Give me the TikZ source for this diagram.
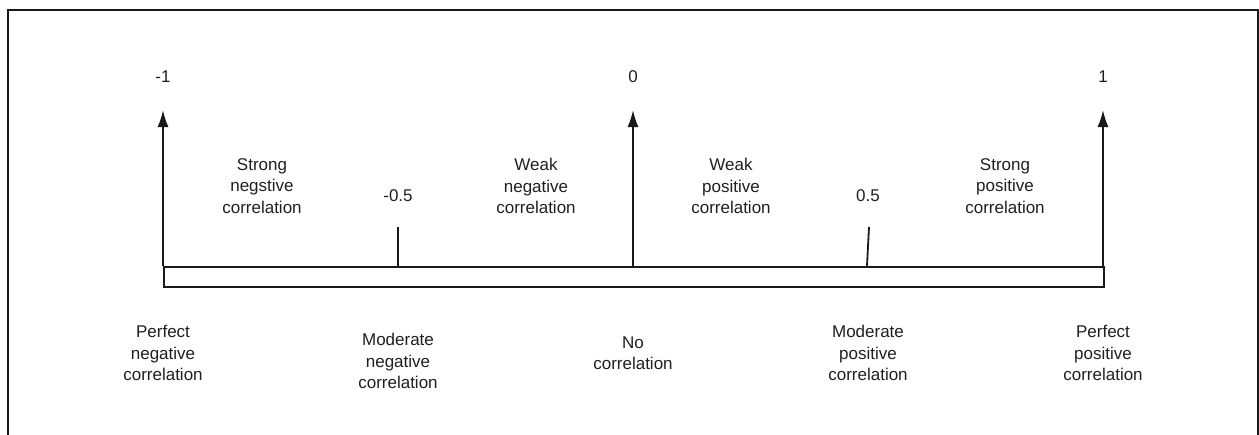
\documentclass[tikz,border=0pt]{standalone}
\usepackage{fontspec}
\setmainfont{Liberation Sans}
\usetikzlibrary{arrows.meta}
\begin{document}
\begin{tikzpicture}[x=1pt,y=-1pt,
  lbl/.style={align=center,inner sep=0pt,text=black!88,font=\fontsize{17}{21.5}\selectfont},
  ln/.style={line width=1.8pt,draw=black!90},
  uparrow/.style={ln,-{Latex[length=17pt,width=11pt]}}]
\useasboundingbox (0,0) rectangle (1259,434);
% open frame
\draw[ln] (8,440) -- (8,10) -- (1258,10) -- (1258,440);
% scale bar
\node[draw=black!90,line width=1.8pt,minimum width=940pt,minimum height=20pt,inner sep=0pt,anchor=north west] (bar) at (163,266) {};
% named points on the bar
\coordinate (pm1) at (163,266);
\coordinate (p0) at (633,266);
\coordinate (pp1) at (1103,266);
\coordinate (pmh) at (398,266);
\coordinate (pph) at (867,266);
\coordinate (tmh) at (398,227);
\coordinate (tph) at (869,227);
\coordinate (am1) at (163,110);
\coordinate (a0) at (633,110);
\coordinate (ap1) at (1103,110);
% arrows and ticks
\draw[uparrow] (pm1) -- (am1);
\draw[uparrow] (p0) -- (a0);
\draw[uparrow] (pp1) -- (ap1);
\draw[ln] (pmh) -- (tmh);
\draw[ln] (pph) -- (tph);
% values
\node[lbl] (vm1) at (163,77) {-1};
\node[lbl] (v0) at (633,77) {0};
\node[lbl] (vp1) at (1103,77) {1};
\node[lbl] (vmh) at (398,196) {-0.5};
\node[lbl] (vph) at (868,196) {0.5};
% region labels
\node[lbl] (sn) at (262,186) {Strong\\negstive\\correlation};
\node[lbl] (wn) at (536,186) {Weak\\negative\\correlation};
\node[lbl] (wp) at (731,186) {Weak\\positive\\correlation};
\node[lbl] (sp) at (1005,186) {Strong\\positive\\correlation};
% point labels
\node[lbl] (pn) at (163,353) {Perfect\\negative\\correlation};
\node[lbl] (mn) at (398,361) {Moderate\\negative\\correlation};
\node[lbl] (nc) at (633,353) {No\\correlation};
\node[lbl] (mp) at (868,353) {Moderate\\positive\\correlation};
\node[lbl] (pp) at (1103,353) {Perfect\\positive\\correlation};
\end{tikzpicture}
\end{document}
